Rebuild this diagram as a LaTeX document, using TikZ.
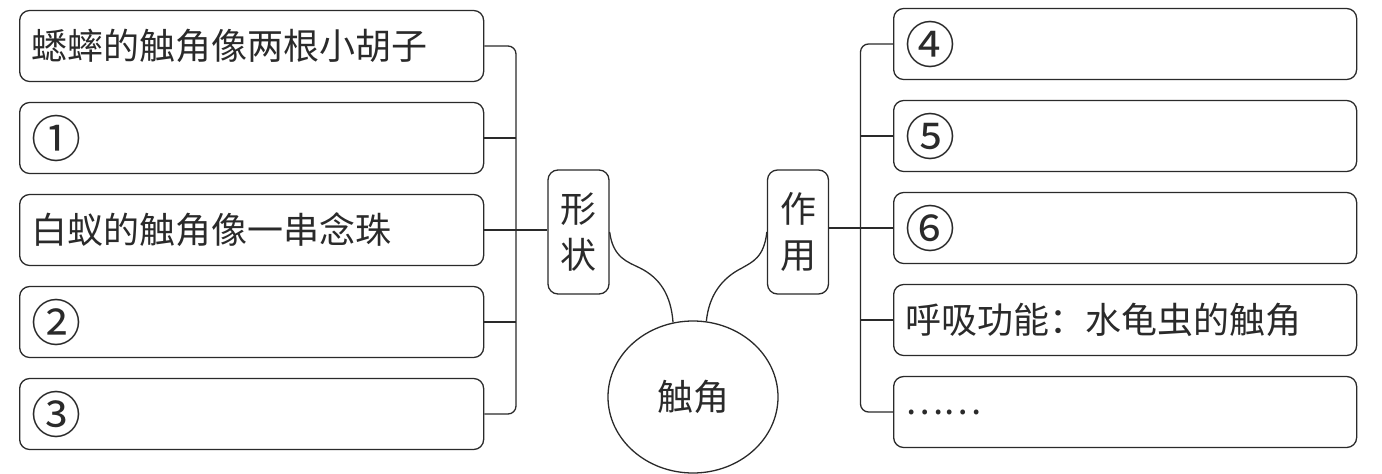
\documentclass[tikz,border=0pt]{standalone}
\usepackage{fontspec}
\setmainfont{Noto Sans CJK SC}
\usetikzlibrary{shapes.geometric,calc}
\definecolor{ink}{HTML}{2A2A2A}
\newcommand{\circnum}[1]{{\fontsize{50}{50}\selectfont #1}}
\begin{document}
\begin{tikzpicture}[x=1pt,y=-1pt,line width=1.3pt,
  every node/.style={text=ink},
  conn/.style={draw=ink,line width=1.3pt},
  box/.style={draw=ink,rounded corners=10pt,minimum width=464pt,minimum height=71pt,
    text width=440pt,inner xsep=12pt,align=left,anchor=west,font=\fontsize{36}{46}\selectfont},
  rbox/.style={box,minimum width=463pt,text width=439pt},
  tag/.style={draw=ink,rounded corners=10pt,minimum width=61pt,minimum height=124pt,
    inner sep=0pt,align=center,font=\fontsize{36}{46}\selectfont},
  hub/.style={draw=ink,ellipse,minimum width=170pt,minimum height=152pt,inner sep=0pt,
    font=\fontsize{36}{46}\selectfont}]
\useasboundingbox (0,0) rectangle (1382,474);
% left boxes
\node[box] (L0) at (19,46)  {蟋蟀的触角像两根小胡子};
\node[box] (L1) at (19,138) {\circnum{①}};
\node[box] (L2) at (19,230) {白蚁的触角像一串念珠};
\node[box] (L3) at (19,322) {\circnum{②}};
\node[box] (L4) at (19,414) {\circnum{③}};
% right boxes
\node[rbox] (R0) at (893,44)  {\circnum{④}};
\node[rbox] (R1) at (893,136) {\circnum{⑤}};
\node[rbox] (R2) at (893,228) {\circnum{⑥}};
\node[rbox] (R3) at (893,320) {呼吸功能：水龟虫的触角};
\node[rbox] (R4) at (893,412) {……};
% category tags
\node[tag] (xz) at (578.5,232) {形\\状};
\node[tag] (zy) at (798,232) {作\\用};
% hub
\node[hub] (c) at (693,397) {触角};
% left bracket
\coordinate (lb) at (516,230);
\draw[conn,rounded corners=8pt] (L0.east) -| (lb) |- (L4.east);
\draw[conn] (L1.east) -- (L1.east -| lb);
\draw[conn] (L3.east) -- (L3.east -| lb);
\draw[conn] (L2.east) -- (L2.east -| xz.west);
% right bracket
\coordinate (rb) at (860.5,230);
\draw[conn,rounded corners=8pt] (R0.west) -| (rb) |- (R4.west);
\draw[conn] (R1.west) -- (R1.west -| rb);
\draw[conn] (R3.west) -- (R3.west -| rb);
\draw[conn] (R2.west) -- (R2.west -| zy.east);
% curved links to hub
\draw[conn] (xz.east) .. controls (613,258) and (628,262) .. (640,268)
  .. controls (660,278) and (671,295) .. (c.105);
\draw[conn] (zy.west) .. controls (764,258) and (752,262) .. (742,268)
  .. controls (722,278) and (709,295) .. (c.80);
\end{tikzpicture}
\end{document}
